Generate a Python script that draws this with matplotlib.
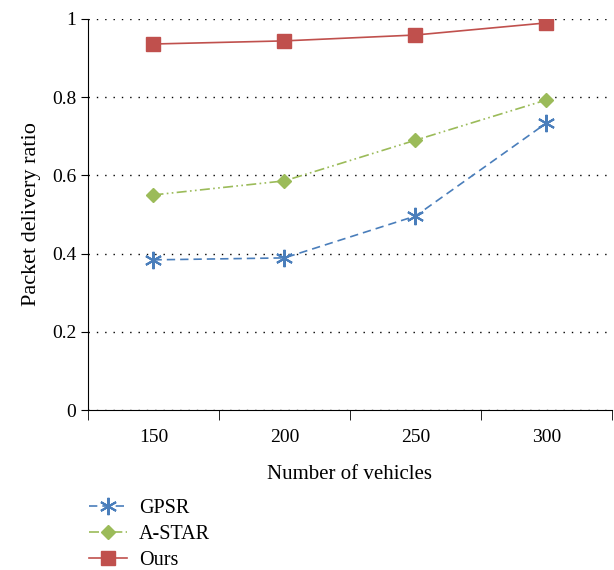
import numpy as np
import matplotlib.pyplot as plt
from matplotlib.ticker import FixedLocator

plt.rcParams['font.family'] = ['Liberation Serif', 'DejaVu Serif']

vehicles = ['150', '200', '250', '300']
gpsr = [0.384, 0.389, 0.496, 0.734]
astar = [0.550, 0.586, 0.690, 0.793]
ours = [0.936, 0.944, 0.959, 0.990]

fig = plt.figure(figsize=(6.14, 5.7), dpi=100)
ax = fig.add_axes([0.1433, 0.2807, 0.8534, 0.686])

x = np.arange(len(vehicles))
# asterisk marker: vertical bar plus two diagonals
l1, = ax.plot(x, gpsr, color='#4a7ebb', ls=(0, (5, 3)), lw=1.2, marker=(6, 2, 0), ms=12.5, mew=1.5, label='GPSR')
l2, = ax.plot(x, astar, color='#9bbb59', ls=(0, (6, 2, 1, 2, 1, 2)), lw=1.2, marker='D', ms=7.5, label='A-STAR')
l3, = ax.plot(x, ours, color='#c0504d', ls='-', lw=1.2, marker='s', ms=10.5, label='Ours')

ax.set_xlim(-0.5, len(vehicles) - 0.5)
ax.set_ylim(0, 1)
ax.set_xticks(x)
ax.set_xticklabels(vehicles)
ax.xaxis.set_minor_locator(FixedLocator(np.arange(len(vehicles) + 1) - 0.5))
ax.tick_params(axis='x', which='major', length=0, pad=14, labelsize=14)
ax.tick_params(axis='x', which='minor', length=7, direction='out')
ax.set_yticks([0, 0.2, 0.4, 0.6, 0.8, 1.0])
ax.set_yticklabels(['0', '0.2', '0.4', '0.6', '0.8', '1'])
ax.tick_params(axis='y', length=5, direction='out', labelsize=14)
ax.spines['top'].set_visible(False)
ax.spines['right'].set_visible(False)
ax.yaxis.grid(True, ls=(0, (1, 5)), color='black', lw=1)
ax.set_axisbelow(True)

ax.set_xlabel('Number of vehicles', fontsize=15, labelpad=13)
ax.set_ylabel('Packet delivery ratio', fontsize=16, labelpad=8)

fig.legend(handles=[l1, l2, l3], loc='upper left', bbox_to_anchor=(0.128, 0.142),
           frameon=False, fontsize=14.5, handlelength=1.9, labelspacing=0.33,
           borderpad=0, handletextpad=0.6)

plt.savefig('out.png', dpi=100)
